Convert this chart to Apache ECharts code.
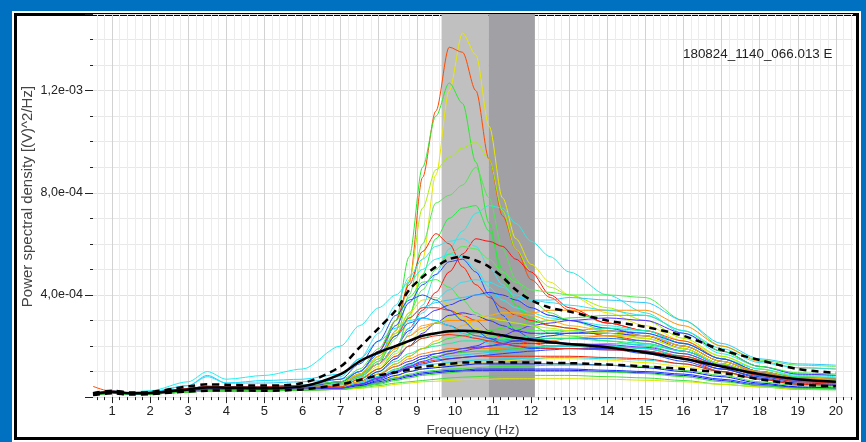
<!DOCTYPE html>
<html><head><meta charset="utf-8">
<script src="https://cdn.jsdelivr.net/npm/echarts@6/dist/echarts.min.js"></script>
<style>
html,body{margin:0;padding:0;width:866px;height:442px;background:#0070c0;overflow:hidden;}
#frame{position:absolute;left:14px;top:13px;width:845px;height:427px;box-sizing:border-box;border:3px solid #000;background:#fff;outline:2px solid #fff;}
#chart{position:absolute;left:0;top:0;width:866px;height:442px;}
</style></head><body><div id="frame"></div><div id="chart"></div>
<script>
// Frequencies (Hz) shared by every curve
const FREQ = [0.5,1,1.5,2,3,3.5,4,5,6,7,7.5,8,8.45,8.8,9.15,9.5,9.85,10.2,10.55,10.9,11.25,11.6,12,12.5,13,14,15,16,17,18,19,20];
// Values in units of 1e-4 (V)^2/Hz
const S01 = [0.12,0.2,0.14,0.16,0.3,0.36,0.35,0.34,0.4,0.55,0.8,1.2,1.9,3.0,5.4,8.7,12.0,14.25,13.4,10.6,7.8,6.2,5.2,4.5,4.0,3.3,2.8,2.2,1.6,1.1,0.8,0.75];
const S02 = [0.42,0.22,0.15,0.17,0.3,0.38,0.36,0.36,0.42,0.6,0.9,1.3,2.6,4.5,8.6,11.2,13.7,13.5,12.0,9.3,7.1,5.8,4.6,3.9,3.4,2.9,2.6,2.2,1.5,1.0,0.75,0.7];
const S03 = [0.1,0.18,0.12,0.14,0.26,0.32,0.31,0.3,0.36,0.55,0.85,1.4,3.0,5.5,9.0,11.0,12.3,11.5,9.2,6.8,4.6,3.6,3.1,2.8,2.7,2.4,2.1,1.8,1.3,0.9,0.7,0.65];
const S04 = [0.14,0.24,0.16,0.18,0.34,0.42,0.4,0.4,0.46,0.6,0.9,1.5,2.6,4.6,7.4,8.9,9.4,9.75,10.0,9.3,7.3,5.8,4.9,4.3,4.0,3.5,3.0,2.3,1.6,1.1,0.8,0.75];
const S05 = [0.12,0.2,0.14,0.16,0.3,0.36,0.35,0.34,0.4,0.55,0.85,1.4,2.3,4.0,6.0,7.6,7.9,8.3,9.0,7.8,5.8,4.6,3.8,3.3,3.0,2.6,2.3,1.9,1.3,0.9,0.7,0.65];
const S06 = [0.1,0.18,0.12,0.14,0.26,0.32,0.31,0.3,0.36,0.5,0.75,1.1,1.8,3.2,4.8,6.2,7.0,7.4,7.5,6.5,5.0,3.6,2.8,2.5,2.4,2.2,2.0,1.7,1.2,0.85,0.65,0.6];
const S07 = [0.12,0.2,0.14,0.16,0.3,0.36,0.35,0.34,0.4,0.5,0.7,1.0,1.5,2.5,3.6,4.8,5.8,6.5,7.2,7.5,7.4,6.8,6.1,5.5,4.9,4.0,3.3,2.5,1.7,1.2,0.9,0.85];
const S08 = [0.12,0.2,0.14,0.16,0.3,0.36,0.35,0.34,0.4,0.6,1.0,1.8,3.0,4.4,5.7,6.4,6.0,5.1,4.4,3.9,3.5,3.2,3.0,2.8,2.7,2.4,2.2,1.8,1.3,0.9,0.65,0.6];
const S09 = [0.1,0.18,0.12,0.14,0.26,0.32,0.31,0.3,0.36,0.5,0.8,1.3,2.0,2.7,3.4,4.1,4.9,5.6,6.2,6.1,5.9,5.4,4.9,4.0,3.5,2.9,2.6,2.1,1.5,1.0,0.75,0.7];
const S10 = [0.14,0.24,0.16,0.18,0.34,0.42,0.4,0.4,0.46,0.8,1.5,2.5,3.6,4.7,5.4,5.9,6.1,6.2,5.9,5.1,4.4,3.9,3.5,3.2,3.0,2.7,2.5,2.0,1.4,1.0,0.75,0.7];
const S11 = [0.15,0.2,0.2,0.25,0.6,1.0,0.7,0.85,1.1,2.0,2.8,3.5,4.0,4.5,5.0,5.4,5.6,5.5,5.0,4.3,3.8,3.5,3.3,3.1,3.0,2.8,2.6,2.1,1.5,1.1,0.85,0.8];
const S12 = [0.12,0.2,0.14,0.16,0.3,0.36,0.35,0.34,0.4,0.6,1.0,1.8,2.8,3.7,4.4,4.8,5.3,5.4,4.9,4.0,3.2,2.6,2.3,2.2,2.1,1.9,1.7,1.4,1.0,0.7,0.5,0.45];
const S13 = [0.1,0.18,0.12,0.14,0.26,0.32,0.31,0.3,0.36,0.5,0.8,1.3,2.0,2.6,3.1,3.4,3.6,3.8,4.0,4.1,4.0,3.8,3.5,3.2,3.0,2.7,2.4,1.9,1.3,0.9,0.65,0.6];
const S14 = [0.12,0.2,0.14,0.16,0.3,0.36,0.35,0.34,0.4,0.5,0.9,1.5,2.4,3.3,4.2,5.0,5.6,5.9,5.8,5.4,4.9,4.5,4.2,4.1,4.0,4.0,3.9,3.0,2.0,1.45,1.25,1.2];
const S15 = [0.14,0.22,0.16,0.2,0.45,0.85,0.55,0.55,0.6,0.7,1.0,1.7,2.5,3.1,3.5,3.7,3.8,3.9,4.0,4.0,3.9,3.9,3.8,3.8,3.9,3.8,3.7,3.0,2.1,1.5,1.3,1.25];
const S16 = [0.12,0.2,0.14,0.16,0.3,0.36,0.35,0.34,0.4,0.5,0.8,1.3,1.9,2.4,2.7,2.9,3.0,3.0,3.0,3.0,3.1,3.2,3.3,3.4,3.4,3.4,3.4,2.8,2.0,1.4,1.15,1.1];
const S17 = [0.1,0.18,0.12,0.14,0.26,0.32,0.31,0.3,0.36,0.4,0.6,0.9,1.2,1.4,1.6,1.7,1.8,1.9,2.0,2.2,2.4,2.6,2.8,2.9,3.0,3.1,3.0,2.5,1.8,1.2,0.9,0.85];
const S18 = [0.08,0.15,0.1,0.12,0.2,0.24,0.24,0.24,0.28,0.3,0.4,0.6,0.8,1.0,1.1,1.2,1.3,1.3,1.35,1.4,1.4,1.45,1.5,1.5,1.5,1.45,1.35,1.2,0.95,0.7,0.55,0.5];
const S19 = [0.08,0.15,0.1,0.12,0.2,0.24,0.24,0.24,0.28,0.3,0.35,0.45,0.55,0.6,0.65,0.7,0.75,0.78,0.8,0.82,0.85,0.85,0.85,0.85,0.85,0.8,0.75,0.65,0.5,0.4,0.3,0.28];
const S20 = [0.08,0.15,0.1,0.12,0.22,0.26,0.26,0.26,0.3,0.35,0.45,0.6,0.75,0.85,0.95,1.0,1.05,1.05,1.1,1.1,1.1,1.1,1.1,1.1,1.1,1.05,1.0,0.9,0.7,0.5,0.38,0.34];
const S21 = [0.12,0.2,0.14,0.16,0.3,0.36,0.35,0.34,0.4,0.5,0.8,1.3,1.9,2.4,2.8,2.9,2.8,2.6,2.4,2.2,2.1,2.1,2.1,2.1,2.1,2.0,1.9,1.6,1.1,0.8,0.6,0.55];
const S22 = [0.1,0.18,0.12,0.14,0.26,0.32,0.31,0.3,0.36,0.5,0.9,1.6,2.4,3.1,3.5,3.5,3.4,3.2,3.0,2.6,2.3,2.2,2.1,2.0,2.0,1.9,1.8,1.5,1.0,0.7,0.5,0.5];
const S23 = [0.14,0.24,0.16,0.18,0.34,0.42,0.4,0.4,0.46,0.6,1.0,1.7,2.4,2.9,3.1,3.0,2.8,2.6,2.4,2.3,2.2,2.2,2.2,2.3,2.3,2.3,2.2,1.8,1.3,0.9,0.7,0.65];
const S24 = [0.12,0.2,0.14,0.16,0.3,0.36,0.35,0.34,0.4,0.4,0.6,1.0,1.4,1.7,1.9,2.0,2.1,2.2,2.2,2.2,2.2,2.3,2.4,2.5,2.6,2.7,2.6,2.1,1.5,1.0,0.8,0.75];
const S25 = [0.1,0.18,0.12,0.14,0.26,0.32,0.31,0.3,0.36,0.35,0.5,0.8,1.1,1.3,1.5,1.6,1.7,1.75,1.8,1.8,1.85,1.9,1.95,2.0,2.0,2.0,1.9,1.6,1.2,0.85,0.65,0.6];
const S26 = [0.08,0.15,0.1,0.12,0.2,0.24,0.24,0.24,0.28,0.35,0.45,0.65,0.85,1.0,1.1,1.15,1.2,1.25,1.3,1.3,1.3,1.3,1.3,1.3,1.3,1.25,1.15,1.0,0.8,0.55,0.4,0.35];
const S27 = [0.12,0.2,0.14,0.16,0.3,0.36,0.35,0.34,0.4,0.4,0.55,0.8,1.0,1.15,1.25,1.3,1.35,1.4,1.45,1.45,1.5,1.5,1.5,1.55,1.55,1.5,1.45,1.3,1.0,0.7,0.5,0.45];
const S28 = [0.12,0.2,0.14,0.16,0.3,0.36,0.35,0.34,0.4,0.5,0.9,1.6,2.5,3.3,3.8,3.9,3.6,3.1,2.7,2.4,2.3,2.3,2.3,2.4,2.4,2.4,2.3,1.9,1.3,0.9,0.7,0.65];
const S29 = [0.14,0.24,0.16,0.18,0.34,0.42,0.4,0.4,0.46,0.6,1.1,1.9,3.0,3.9,4.5,4.6,4.3,3.8,3.3,3.0,2.8,2.7,2.6,2.6,2.6,2.5,2.4,2.0,1.4,1.0,0.75,0.7];
const S30 = [0.1,0.18,0.12,0.14,0.26,0.32,0.31,0.3,0.36,0.4,0.6,1.0,1.5,2.0,2.5,2.9,3.2,3.3,3.2,3.0,2.8,2.6,2.5,2.5,2.5,2.5,2.4,2.0,1.4,0.95,0.7,0.65];
const S31 = [0.12,0.2,0.14,0.16,0.3,0.36,0.35,0.34,0.4,0.4,0.6,0.9,1.2,1.5,1.7,1.8,1.9,1.9,1.9,1.9,1.9,2.0,2.1,2.2,2.3,2.4,2.4,2.0,1.4,0.95,0.7,0.65];
const S32 = [0.08,0.15,0.1,0.12,0.2,0.24,0.24,0.24,0.28,0.3,0.4,0.55,0.7,0.8,0.9,0.95,1.0,1.0,1.05,1.05,1.05,1.05,1.05,1.05,1.05,1.0,0.95,0.85,0.65,0.45,0.35,0.3];
const S33 = [0.08,0.15,0.1,0.12,0.2,0.24,0.24,0.24,0.28,0.3,0.35,0.4,0.5,0.55,0.6,0.62,0.65,0.68,0.7,0.7,0.72,0.72,0.72,0.72,0.72,0.7,0.66,0.6,0.5,0.4,0.32,0.3];
const S34 = [0.14,0.22,0.16,0.2,0.45,0.8,0.55,0.65,0.7,0.9,1.5,2.2,2.7,3.0,3.1,3.0,2.8,2.5,2.3,2.1,2.0,2.0,2.0,2.0,2.0,2.0,1.9,1.6,1.2,0.85,0.65,0.6];
const S35 = [0.1,0.18,0.12,0.14,0.26,0.32,0.31,0.3,0.36,0.35,0.5,0.75,1.0,1.2,1.35,1.45,1.5,1.55,1.6,1.6,1.6,1.6,1.6,1.6,1.6,1.55,1.5,1.3,1.0,0.7,0.5,0.45];
const S36 = [0.12,0.2,0.14,0.16,0.3,0.36,0.35,0.34,0.4,0.4,0.7,1.1,1.6,2.0,2.3,2.5,2.6,2.6,2.5,2.4,2.3,2.3,2.3,2.3,2.3,2.2,2.1,1.8,1.3,0.9,0.7,0.65];
const S37 = [0.12,0.2,0.14,0.16,0.3,0.36,0.35,0.34,0.4,0.4,0.6,0.9,1.3,1.6,1.9,2.1,2.3,2.4,2.5,2.6,2.7,2.8,2.9,3.0,3.1,3.2,3.2,2.6,1.8,1.2,0.95,0.9];
const S38 = [0.1,0.18,0.12,0.14,0.26,0.32,0.31,0.3,0.36,0.35,0.5,0.75,1.0,1.3,1.5,1.7,1.8,1.9,1.95,2.0,2.1,2.2,2.3,2.4,2.5,2.6,2.5,2.1,1.5,1.0,0.75,0.7];
const S39 = [0.14,0.24,0.16,0.18,0.34,0.42,0.4,0.4,0.46,0.4,0.55,0.8,1.05,1.25,1.4,1.5,1.6,1.65,1.7,1.75,1.8,1.85,1.9,1.95,2.0,2.1,2.05,1.8,1.3,0.9,0.7,0.65];
const S40 = [0.08,0.15,0.1,0.12,0.2,0.24,0.24,0.24,0.28,0.3,0.4,0.55,0.75,0.9,1.0,1.05,1.1,1.12,1.15,1.18,1.2,1.2,1.22,1.25,1.25,1.25,1.2,1.05,0.85,0.6,0.45,0.4];
const S41 = [0.12,0.2,0.14,0.16,0.3,0.36,0.35,0.34,0.4,0.45,0.7,1.1,1.7,2.2,2.6,2.9,3.1,3.2,3.2,3.1,3.0,2.9,2.8,2.7,2.6,2.5,2.3,1.9,1.3,0.9,0.7,0.65];
const S42 = [0.1,0.18,0.12,0.14,0.26,0.32,0.31,0.3,0.36,0.4,0.6,0.9,1.3,1.6,1.9,2.2,2.5,2.8,3.0,3.2,3.3,3.3,3.2,3.0,2.8,2.6,2.4,2.0,1.4,1.0,0.75,0.7];
const S43 = [0.14,0.24,0.16,0.18,0.34,0.42,0.4,0.4,0.46,0.7,1.3,2.2,3.2,3.8,4.0,3.8,3.4,3.0,2.6,2.3,2.1,2.0,1.9,1.9,1.9,1.85,1.8,1.5,1.1,0.8,0.6,0.55];
const S44 = [0.12,0.2,0.14,0.16,0.3,0.36,0.35,0.34,0.4,0.5,0.8,1.3,2.0,2.7,3.3,3.8,4.2,4.5,4.6,4.5,4.3,4.0,3.8,3.7,3.6,3.4,3.2,2.6,1.9,1.35,1.15,1.1];
const S45 = [0.08,0.15,0.1,0.12,0.2,0.24,0.24,0.24,0.28,0.3,0.4,0.5,0.65,0.75,0.85,0.9,0.95,1.0,1.0,1.0,1.0,1.0,1.0,1.0,1.0,0.98,0.92,0.8,0.6,0.45,0.35,0.32];
const S46 = [0.1,0.18,0.12,0.14,0.26,0.32,0.31,0.3,0.36,0.35,0.5,0.7,0.95,1.15,1.3,1.4,1.5,1.55,1.6,1.65,1.7,1.75,1.8,1.85,1.9,1.9,1.8,1.5,1.1,0.75,0.55,0.5];
const S47 = [0.12,0.2,0.14,0.16,0.3,0.36,0.35,0.34,0.4,0.35,0.5,0.75,1.0,1.2,1.4,1.55,1.7,1.8,1.9,2.0,2.05,2.1,2.1,2.1,2.1,2.05,1.95,1.7,1.25,0.85,0.65,0.6];
const S48 = [0.14,0.24,0.16,0.18,0.34,0.42,0.4,0.4,0.46,0.4,0.7,1.1,1.6,2.0,2.3,2.4,2.45,2.4,2.3,2.2,2.1,2.0,1.95,1.9,1.9,1.85,1.8,1.6,1.2,0.85,0.6,0.55];
// Summary curves
const MEAN  = [0.12,0.2,0.15,0.16,0.3,0.38,0.37,0.35,0.42,0.9,1.4,1.75,2.0,2.2,2.4,2.5,2.58,2.6,2.58,2.5,2.42,2.32,2.25,2.15,2.08,1.95,1.75,1.5,1.2,0.9,0.7,0.6];
const UPPER = [0.15,0.25,0.18,0.2,0.42,0.5,0.48,0.45,0.55,1.2,1.95,2.7,3.4,4.2,4.7,5.1,5.4,5.5,5.35,5.1,4.7,4.2,3.8,3.5,3.35,3.0,2.75,2.4,1.85,1.45,1.1,0.95];
const LOWER = [0.08,0.15,0.1,0.12,0.22,0.25,0.26,0.25,0.3,0.5,0.67,0.85,0.97,1.08,1.18,1.25,1.3,1.35,1.36,1.36,1.36,1.35,1.35,1.34,1.33,1.28,1.2,1.1,0.95,0.7,0.5,0.42];
// Bands (Hz)
const BAND_LIGHT = [9.65, 10.88];
const BAND_DARK = [10.88, 12.1];
// Axis ticks
const X_LABELS = [1,2,3,4,5,6,7,8,9,10,11,12,13,14,15,16,17,18,19,20];
const ANNOTATION = '180824_1140_066.013 E';

const CURVES = [S01,S02,S03,S04,S05,S06,S07,S08,S09,S10,S11,S12,S13,S14,S15,S16,S17,S18,S19,S20,S21,S22,S23,S24,S25,S26,S27,S28,S29,S30,S31,S32,S33,S34,S35,S36,S37,S38,S39,S40,S41,S42,S43,S44,S45,S46,S47,S48];
const COLORS = ['#e8e800','#ff4a00','#30e830','#a8f000','#50e850','#20f040','#30e8e0','#ff2000','#ff1010','#40e0f0','#20f0f0','#2050ff','#3030ff','#50f050','#30c8f8','#ff9000','#5030ff','#f0f000','#40e040','#1030ff','#ffa020','#ff3020','#2070ff','#20e8a0','#30d830','#0020f0','#20d8e8','#e0e000','#40f040','#4020ff','#ff8010','#1818e8','#d8e800','#10e0ff','#f02000','#20f090','#30e830','#2040ff','#20d0f0','#40e040','#c0f000','#ffb000','#1050ff','#30e0f0','#30e030','#2040ff','#7030ff','#ff2a10'];

const UNIT = 1e-4;
const toData = arr => FREQ.map((f,i)=>[f, arr[i]*UNIT]);

const MINOR_X = [];
for (let k = 3; k <= 102; k++) { if (k % 5 !== 0) MINOR_X.push(k/5); }

function fmt(v){
  if (Math.abs(v) < 1e-12) return '';
  const s = v.toExponential(1);
  const parts = s.split('e');
  const e = parts[1];
  const sign = e[0] === '-' ? '-' : '+';
  const d = e.replace(/[-+]/,'').padStart(2,'0');
  return parts[0].replace('.', ',') + 'e' + sign + d;
}

const FONT = '"Liberation Sans", Arial, Helvetica, sans-serif';
const series = [];
CURVES.forEach((c, i) => {
  const s = {
    type:'line', data: toData(c), showSymbol:false, symbol:'none', silent:true,
    smooth:0.3, smoothMonotone:'x', lineStyle:{width:1, color:COLORS[i]}, z:3
  };
  if (i === 0) {
    s.markArea = { silent:true, data:[
      [{xAxis:BAND_LIGHT[0], itemStyle:{color:'#c0c0c0'}},{xAxis:BAND_LIGHT[1]}],
      [{xAxis:BAND_DARK[0], itemStyle:{color:'#a1a1a5'}},{xAxis:BAND_DARK[1]}]
    ]};
  }
  series.push(s);
});
series.push({type:'line', data:toData(MEAN), showSymbol:false, symbol:'none', silent:true, smooth:0.3, lineStyle:{width:2.5, color:'#000'}, z:5});
series.push({type:'line', data:toData(UPPER), showSymbol:false, symbol:'none', silent:true, smooth:0.3, lineStyle:{width:2.5, color:'#000', type:[7,5]}, z:5});
series.push({type:'line', data:toData(LOWER), showSymbol:false, symbol:'none', silent:true, smooth:0.3, lineStyle:{width:2.5, color:'#000', type:[7,5]}, z:5});

const chart = echarts.init(document.getElementById('chart'), null, {renderer:'canvas'});
chart.setOption({
  animation:false,
  backgroundColor:'transparent',
  textStyle:{fontFamily:FONT},
  grid:{left:93, right:13, top:14, bottom:44, containLabel:false},
  graphic:[{type:'text', left:683, top:48, style:{text:ANNOTATION, font:'13.4px ' + FONT, fill:'#222'}, z:10}],
  xAxis:[{
    type:'value', min:0.5, max:20.45, position:'bottom',
    name:'Frequency (Hz)', nameLocation:'middle', nameGap:25,
    nameTextStyle:{fontSize:13.5, color:'#444', fontFamily:FONT},
    axisLine:{show:false},
    axisTick:{show:true, inside:false, length:6, customValues:X_LABELS, lineStyle:{color:'#222', width:1}},
    axisLabel:{show:true, customValues:X_LABELS, margin:8, fontSize:13, color:'#222', fontFamily:FONT},
    splitLine:{show:true, lineStyle:{color:'#d2d2d2', width:1}}
  },{
    type:'value', min:0.5, max:20.45, position:'bottom',
    axisLine:{show:false},
    axisTick:{show:true, inside:false, length:3, customValues:MINOR_X, lineStyle:{color:'#222', width:1}},
    axisLabel:{show:false},
    splitLine:{show:true, lineStyle:{color:'#ececec', width:1}}
  }],
  yAxis:{
    type:'value', min:0, max:1.5e-3, interval:4e-4,
    name:'Power spectral density [(V)^2/Hz]', nameLocation:'middle', nameGap:58, nameMoveOverlap:false,
    nameTextStyle:{fontSize:15, color:'#444', fontFamily:FONT, padding:[0,0,0,18]},
    axisLine:{show:false},
    axisTick:{show:true, length:8, lineStyle:{color:'#222'}},
    minorTick:{show:true, splitNumber:4, length:3, lineStyle:{color:'#222'}},
    axisLabel:{formatter:fmt, margin:10, fontSize:12.5, color:'#222', fontFamily:FONT, showMaxLabel:false},
    splitLine:{show:true, lineStyle:{color:'#e2e2e2'}},
    minorSplitLine:{show:true, lineStyle:{color:'#e8e8e8'}}
  },
  series: series
});
</script></body></html>
